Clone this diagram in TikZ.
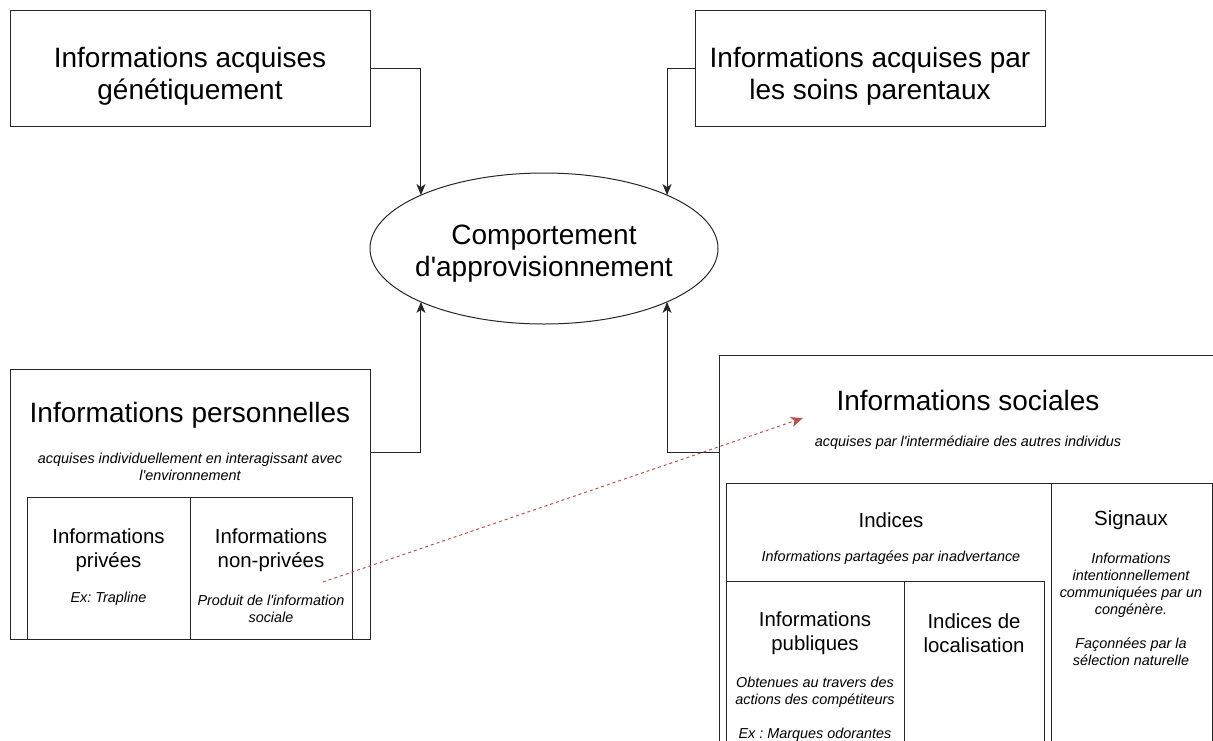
\documentclass[tikz,border=0pt]{standalone}
\usepackage{fontspec}
\setmainfont{Liberation Sans}
\usetikzlibrary{shapes,arrows.meta,positioning}
\definecolor{redline}{HTML}{B85450}
\newcommand{\ap}{\textquotesingle}
\frenchspacing

\begin{document}
\begin{tikzpicture}[
    x=1pt, y=-1pt,
    box/.style={rectangle, draw=black!85, line width=1pt, inner sep=0pt, outer sep=0pt},
    big/.style={font=\fontsize{28}{32}\selectfont, align=center},
    mid/.style={font=\fontsize{20.4}{24.5}\selectfont, align=center},
    note/.style={font=\fontsize{14.4}{17}\selectfont\itshape, align=center},
    arrow/.style={-{Stealth[length=11pt,width=9pt,inset=3pt]}, line width=1pt, draw=black!85},
    hint/.style={-{Stealth[length=12pt,width=10pt,inset=3pt]}, dash pattern=on 3pt off 3pt, line width=1pt, draw=redline}
]
\useasboundingbox (0,0) rectangle (1213,740);
\clip (0,0) rectangle (1213,740);

% sources (top)
\node[box, minimum width=360pt, minimum height=116pt] (gen) at (190,68) {};
\node[big] (gent) at (190,76) {Informations acquises\\génétiquement};
\node[box, minimum width=350pt, minimum height=116pt] (par) at (870,68) {};
\node[big] (part) at (870,76) {Informations acquises par\\les soins parentaux};

% behaviour
\node[ellipse, draw=black!85, line width=1pt, minimum width=348pt, minimum height=151pt, inner sep=0pt, outer sep=0pt] (comp) at (544,248.5) {};
\node[big] (compt) at (544,254) {Comportement\\d\ap approvisionnement};

% personal information (left)
\node[box, minimum width=360pt, minimum height=270pt] (perso) at (190,504) {};
\node[big] (persot) at (190,415) {Informations personnelles};
\node[note] (persod) at (190,467) {acquises individuellement en interagissant avec\\l\ap environnement};

\node[box, minimum width=163pt, minimum height=142pt] (priv) at (108.5,568) {};
\node[mid] (privt) at (108.5,550) {Informations\\privées};
\node[note] (privd) at (108.5,599) {Ex: Trapline};
\node[box, minimum width=162pt, minimum height=142pt] (npriv) at (271,568) {};
\node[mid] (nprivt) at (271,550) {Informations\\non-privées};
\node[note] (nprivd) at (271,609) {Produit de l\ap information\\sociale};

% social information (right)
\node[box, minimum width=521pt, minimum height=445pt] (soc) at (979.5,577.5) {};
\node[big] (soct) at (968,400) {Informations sociales};
\node[note] (socd) at (968,443) {acquises par l\ap intermédiaire des autres individus};

\node[box, minimum width=325pt, minimum height=317pt] (ind) at (888.5,641.5) {};
\node[mid] (indt) at (891,520) {Indices};
\node[note] (indd) at (891,558) {Informations partagées par inadvertance};
\node[box, minimum width=161pt, minimum height=317pt] (sig) at (1131.5,641.5) {};
\node[mid] (sigt) at (1131,520) {Signaux};
\node[note] (sigd) at (1131,609) {Informations\\intentionnellement\\communiquées par un\\congénère.\\[17pt]Façonnées par la\\sélection naturelle};

\node[box, minimum width=178pt, minimum height=219pt] (pub) at (815,690.5) {};
\node[mid] (pubt) at (815,633) {Informations\\publiques};
\node[note] (pubd) at (815,709) {Obtenues au travers des\\actions des compétiteurs\\[17pt]Ex : Marques odorantes};
\node[box, minimum width=140pt, minimum height=219pt] (loc) at (974,690.5) {};
\node[mid] (loct) at (974,633) {Indices de\\localisation};

% links to the behaviour
\draw[arrow] (gen.east) -| (comp.north west);
\draw[arrow] (par.west) -| (comp.north east);
\draw[arrow] ([yshift=-83pt]perso.north east) -| (comp.south west);
\draw[arrow] ([yshift=-97pt]soc.north west) -| (comp.south east);

% non-private -> social
\coordinate (hfrom) at (323,582);
\coordinate (hto) at (803,418);
\draw[hint] (hfrom) -- (hto);

\end{tikzpicture}
\end{document}
